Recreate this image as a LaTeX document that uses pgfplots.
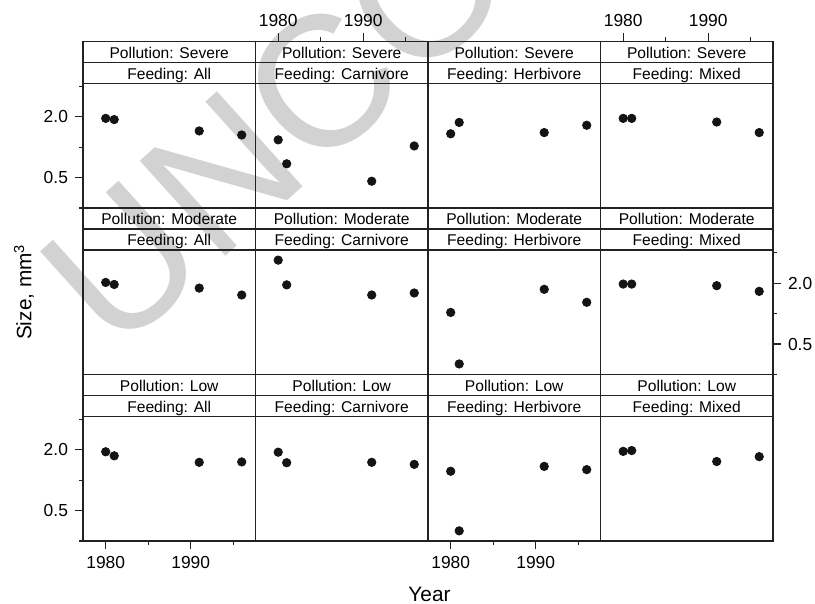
\documentclass[border=0pt]{standalone}
\usepackage{pgfplots}
\pgfplotsset{compat=1.18}
\usepackage{fontspec}
\setmainfont{Liberation Sans}
\definecolor{axc}{HTML}{222222}
\definecolor{wm}{HTML}{D2D2D2}
\newcommand{\stripfont}{\fontsize{7.8}{9}\selectfont}
\newcommand{\tickfont}{\fontsize{8.7}{10}\selectfont}
\newcommand{\strips}[2]{%
  \draw[axc, line width=0.6pt] (axis cs:1977.33,2.82) -- (axis cs:1997.62,2.82);
  \draw[axc, line width=0.6pt] (axis cs:1977.33,3.338) -- (axis cs:1997.62,3.338);
  \node[font=\stripfont, anchor=base, inner sep=0pt] at (axis cs:1987.475,3.438) {#1};
  \node[font=\stripfont, anchor=base, inner sep=0pt] at (axis cs:1987.475,2.920) {#2};
}
\pgfplotsset{
  panel/.style={
    scale only axis, width=86.25pt, height=83.25pt,
    xmin=1977.33, xmax=1997.62, ymin=-0.25, ymax=3.856,
    clip=false, anchor=south west,
    axis line style={line width=0.75pt, color=axc},
    xtick=\empty, ytick=\empty,
    tick align=outside, major tick length=4pt, minor tick length=2pt,
    every tick/.style={line width=0.6pt, color=axc},
    tick label style={font=\tickfont, color=black},
    /pgf/number format/assume math mode=true,
  },
  xb/.style={xtick={1980,1990}, xticklabels={1980,1990}, minor xtick={1985,1995}, xtick pos=bottom},
  xt/.style={xtick={1980,1990}, xticklabels={1980,1990}, minor xtick={1985,1995}, xtick pos=top},
  yl/.style={ytick={0.5,2}, yticklabels={0.5,2.0}, minor ytick={-0.25,1.25,2.75}, ytick pos=left},
  yr/.style={ytick={0.5,2}, yticklabels={0.5,2.0}, minor ytick={-0.25,1.25,2.75}, ytick pos=right},
  dots/.style={only marks, mark=*, mark size=2.1pt, color=black!92},
}
\begin{document}
\begin{tikzpicture}
\path[use as bounding box] (0,0) rectangle (407.5pt,302pt);
\node[anchor=base west, rotate=42, inner sep=0pt, font=\fontsize{93}{95}\selectfont, text=wm] at (57.4pt,123.8pt) {UNCORRECTED PROOF};
% Row 1: Severe
\begin{axis}[panel, yl, at={(41.5pt,198pt)}]
\addplot[dots] coordinates {(1980,1.96)(1981,1.93)(1991,1.65)(1996,1.55)};
\strips{Pollution: Severe}{Feeding: All}
\end{axis}
\begin{axis}[panel, xt, at={(127.75pt,198pt)}]
\addplot[dots] coordinates {(1980,1.43)(1981,0.84)(1991,0.41)(1996,1.28)};
\strips{Pollution: Severe}{Feeding: Carnivore}
\end{axis}
\begin{axis}[panel, at={(214pt,198pt)}]
\addplot[dots] coordinates {(1980,1.58)(1981,1.86)(1991,1.61)(1996,1.79)};
\strips{Pollution: Severe}{Feeding: Herbivore}
\end{axis}
\begin{axis}[panel, xt, at={(300.25pt,198pt)}]
\addplot[dots] coordinates {(1980,1.96)(1981,1.96)(1991,1.87)(1996,1.61)};
\strips{Pollution: Severe}{Feeding: Mixed}
\end{axis}
% Row 2: Moderate
\begin{axis}[panel, at={(41.5pt,114.75pt)}]
\addplot[dots] coordinates {(1980,2.02)(1981,1.97)(1991,1.88)(1996,1.71)};
\strips{Pollution: Moderate}{Feeding: All}
\end{axis}
\begin{axis}[panel, at={(127.75pt,114.75pt)}]
\addplot[dots] coordinates {(1980,2.57)(1981,1.96)(1991,1.71)(1996,1.76)};
\strips{Pollution: Moderate}{Feeding: Carnivore}
\end{axis}
\begin{axis}[panel, at={(214pt,114.75pt)}]
\addplot[dots] coordinates {(1980,1.28)(1981,0.01)(1991,1.85)(1996,1.53)};
\strips{Pollution: Moderate}{Feeding: Herbivore}
\end{axis}
\begin{axis}[panel, yr, at={(300.25pt,114.75pt)}]
\addplot[dots] coordinates {(1980,1.98)(1981,1.98)(1991,1.94)(1996,1.80)};
\strips{Pollution: Moderate}{Feeding: Mixed}
\end{axis}
% Row 3: Low
\begin{axis}[panel, yl, xb, at={(41.5pt,31.5pt)}]
\addplot[dots] coordinates {(1980,1.95)(1981,1.85)(1991,1.69)(1996,1.70)};
\strips{Pollution: Low}{Feeding: All}
\end{axis}
\begin{axis}[panel, at={(127.75pt,31.5pt)}]
\addplot[dots] coordinates {(1980,1.94)(1981,1.68)(1991,1.69)(1996,1.64)};
\strips{Pollution: Low}{Feeding: Carnivore}
\end{axis}
\begin{axis}[panel, xb, at={(214pt,31.5pt)}]
\addplot[dots] coordinates {(1980,1.47)(1981,0.0)(1991,1.59)(1996,1.51)};
\strips{Pollution: Low}{Feeding: Herbivore}
\end{axis}
\begin{axis}[panel, at={(300.25pt,31.5pt)}]
\addplot[dots] coordinates {(1980,1.96)(1981,1.98)(1991,1.71)(1996,1.83)};
\strips{Pollution: Low}{Feeding: Mixed}
\end{axis}
\node[rotate=90, font=\fontsize{10.4}{12}\selectfont] at (12pt,156pt) {Size, mm\textsuperscript{3}};
\node[font=\fontsize{10.4}{12}\selectfont] at (214.75pt,5pt) {Year};
\end{tikzpicture}
\end{document}
